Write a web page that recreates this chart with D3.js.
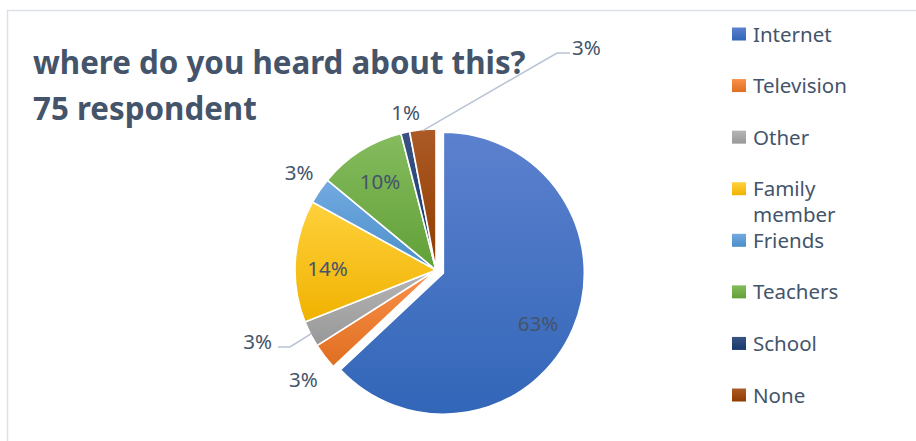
<!DOCTYPE html>
<html>
<head>
<meta charset="utf-8">
<script src="https://cdn.jsdelivr.net/npm/d3@7/dist/d3.min.js"></script>
<style>
  html, body { margin: 0; padding: 0; background: #ffffff; }
  svg { display: block; }
  text { font-family: "Noto Sans", "Open Sans", sans-serif; }
</style>
</head>
<body>
<svg id="chart" width="916" height="441"></svg>
<script>
// Survey answers: where respondents heard about it (percent of 75 respondents)
const categories = ["Internet", "Television", "Other", "Family member", "Friends", "Teachers", "School", "None"];
const percents = [63, 3, 3, 14, 3, 10, 1, 3];
const baseColors = ["#4472C4", "#ED7D31", "#A5A5A5", "#FFC000", "#5B9BD5", "#70AD47", "#264478", "#9E480E"];
const titleLines = ["where do you heard about this?", "75 respondent"];

const W = 916, H = 441;
const svg = d3.select("#chart");
const textColor = "#44546A";

// frame of the chart area
svg.append("path")
  .attr("d", `M7.5,${H} V10.5 H${W}`)
  .attr("fill", "none")
  .attr("stroke", "#dde1e7")
  .attr("stroke-width", 1.5);

// per-slice vertical gradients (lighter top, darker bottom)
const defs = svg.append("defs");
baseColors.forEach((c, i) => {
  const g = defs.append("linearGradient")
    .attr("id", "grad" + i)
    .attr("x1", 0).attr("y1", 0).attr("x2", 0).attr("y2", 1);
  const hc = d3.hcl(c);
  g.append("stop").attr("offset", "0%").attr("stop-color", d3.hcl(hc.h, hc.c * 0.92, hc.l + 6).formatHex());
  g.append("stop").attr("offset", "100%").attr("stop-color", d3.hcl(hc.h, hc.c * 1.02, hc.l - 5).formatHex());
});

// pie geometry
const cx = 436, cy = 270, R = 141, explode = 8;
const data = categories.map((name, i) => ({ name, value: percents[i], color: baseColors[i], i }));
const pie = d3.pie().value(d => d.value).sort(null).startAngle(0).endAngle(2 * Math.PI);
const arcs = pie(data);
const arc = d3.arc().innerRadius(0).outerRadius(R);

const polar = (angle, r) => [Math.sin(angle) * r, -Math.cos(angle) * r];

const g = svg.append("g").attr("transform", `translate(${cx},${cy})`);

g.selectAll("path.slice")
  .data(arcs)
  .join("path")
  .attr("class", "slice")
  .attr("d", arc)
  .attr("transform", d => {
    if (d.index !== 0) return null;
    const mid = (d.startAngle + d.endAngle) / 2;
    const [dx, dy] = polar(mid, explode);
    return `translate(${dx},${dy})`;
  })
  .attr("fill", d => `url(#grad${d.index})`)
  .attr("stroke", "#ffffff")
  .attr("stroke-width", 1.6)
  .attr("stroke-linejoin", "round");

// data labels: radius factor / angle nudge, or leader-line callouts
const labelFont = 20.5;
const labelLayout = {
  0: { rf: 0.76, nudge: 0.08, explode: true },
  1: { rf: 1.22, nudge: -0.03 },
  2: { leader: { elbow: [-146, 77], end: [-158, 77], anchor: "end", dx: -6 } },
  3: { rf: 0.77, nudge: -0.05 },
  4: { rf: 1.19, nudge: 0.02 },
  5: { rf: 0.74, nudge: 0 },
  6: { rf: 1.14, nudge: 0.03 },
  7: { leader: { elbow: [121, -217], end: [134, -217], anchor: "start", dx: 2 } }
};

arcs.forEach(d => {
  const mid = (d.startAngle + d.endAngle) / 2;
  const L = labelLayout[d.index];
  const txt = d.data.value + "%";
  if (L.leader) {
    const [ex, ey] = polar(mid, R - 1);
    g.append("polyline")
      .attr("points", [[ex, ey], L.leader.elbow, L.leader.end].map(p => p.join(",")).join(" "))
      .attr("fill", "none")
      .attr("stroke", "#b8c3d3")
      .attr("stroke-width", 1.5);
    g.append("text")
      .attr("x", L.leader.end[0] + L.leader.dx)
      .attr("y", L.leader.end[1] - 5 + labelFont * 0.36)
      .attr("text-anchor", L.leader.anchor)
      .attr("font-size", labelFont)
      .attr("fill", textColor)
      .text(txt);
  } else {
    let [x, y] = polar(mid + L.nudge, R * L.rf);
    if (L.explode) {
      const [dx, dy] = polar(mid, explode);
      x += dx; y += dy;
    }
    g.append("text")
      .attr("x", x)
      .attr("y", y + labelFont * 0.36)
      .attr("text-anchor", "middle")
      .attr("font-size", labelFont)
      .attr("fill", textColor)
      .text(txt);
  }
});

// title
svg.selectAll("text.title")
  .data(titleLines)
  .join("text")
  .attr("class", "title")
  .attr("x", 33)
  .attr("y", (d, i) => 74 + i * 46)
  .attr("font-size", 31.3)
  .attr("font-weight", "bold")
  .attr("fill", textColor)
  .text(d => d);

// legend
const legendY = d3.scaleLinear().domain([0, categories.length - 1]).range([34, 395]);
const legend = svg.append("g");
data.forEach((d, i) => {
  const y = legendY(i);
  const lg = defs.append("linearGradient")
    .attr("id", "lgrad" + i)
    .attr("x1", 0).attr("y1", 0).attr("x2", 0).attr("y2", 1);
  lg.append("stop").attr("offset", "0%").attr("stop-color", d3.select("#grad" + i + " stop:first-child").attr("stop-color"));
  lg.append("stop").attr("offset", "100%").attr("stop-color", d3.select("#grad" + i + " stop:last-child").attr("stop-color"));
  legend.append("rect")
    .attr("x", 732).attr("y", y - 6.5)
    .attr("width", 14).attr("height", 13)
    .attr("fill", `url(#lgrad${i})`);
  const words = d.name === "Family member" ? ["Family", "member"] : [d.name];
  words.forEach((w, k) => {
    legend.append("text")
      .attr("x", 753)
      .attr("y", y + 7.5 + k * 25.5)
      .attr("font-size", labelFont)
      .attr("fill", textColor)
      .text(w);
  });
});
</script>
</body>
</html>
